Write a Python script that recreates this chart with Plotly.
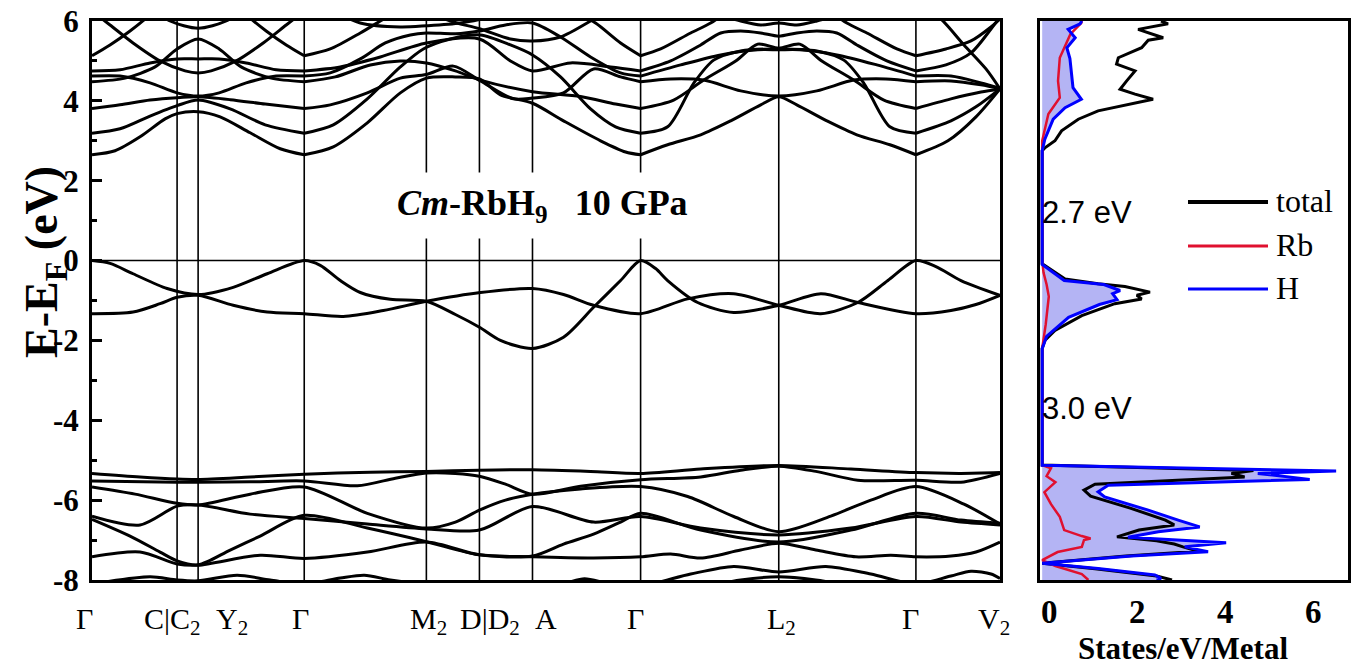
import plotly.graph_objects as go

# ---------------- k-path (high-symmetry points) ----------------
k_nodes = [0.0, 0.85, 1.06, 2.12, 3.34, 3.87, 4.40, 5.48, 6.86, 8.23, 9.07]
k_names = ["Γ", "C|C<sub>2</sub>", "Y<sub>2</sub>", "Γ", "M<sub>2</sub>", "D|D<sub>2</sub>",
           "A", "Γ", "L<sub>2</sub>", "Γ", "V<sub>2</sub>"]

# ---------------- bands: each curve is (k, E[eV]) ----------------
valence_bands = [
    ([0.00, 0.18, 0.41, 0.75, 1.06, 1.41, 1.75, 2.12, 2.28, 2.48, 2.68, 2.98, 3.34, 3.63, 3.87, 4.08,
      4.40, 4.71, 5.01, 5.28, 5.48, 5.63, 5.75, 6.05, 6.41, 6.86, 7.28, 7.65, 8.23, 8.58, 8.83, 9.07],
     [0, -0.07, -0.33, -0.7, -0.85, -0.67, -0.33, 0, -0.12, -0.5, -0.8, -0.97, -1.02, -1.35, -1.67, -2.0,
      -2.2, -1.92, -1.17, -0.5, 0, -0.2, -0.5, -1.05, -1.3, -1.12, -0.83, -1.05, -1.33, -1.25, -1.1, -0.87]),
    ([0.00, 0.41, 0.68, 0.85, 1.06, 1.41, 1.75, 2.12, 2.51, 2.91, 3.34, 3.88, 4.40, 4.71, 5.01, 5.48,
      5.95, 6.41, 6.86, 7.28, 7.65, 7.95, 8.23, 8.43, 8.68, 9.07],
     [-1.33, -1.29, -1.08, -0.92, -0.87, -1.12, -1.29, -1.33, -1.4, -1.25, -1.02, -0.8, -0.7, -0.85, -1.12, -1.33,
      -0.96, -0.83, -1.12, -1.33, -1.05, -0.5, 0, -0.15, -0.5, -0.87]),
]

low_bands = [
    ([0, 0.48, 0.85, 1.06, 1.58, 2.12, 2.78, 3.34, 3.87, 4.40, 4.98, 5.48, 6.08, 6.86, 7.58, 8.23, 8.68, 9.07],
     [-5.33, -5.42, -5.47, -5.48, -5.42, -5.35, -5.3, -5.28, -5.25, -5.24, -5.28, -5.33, -5.22, -5.13, -5.22, -5.31, -5.33, -5.31]),
    ([0, 0.85, 1.06, 1.58, 2.12, 2.65, 3.03, 3.34, 3.63, 3.87, 4.13, 4.40, 4.88, 5.48, 6.08, 6.48, 6.86, 7.23, 7.65, 8.23, 8.68, 9.07],
     [-5.52, -5.55, -5.55, -5.54, -5.52, -5.64, -5.45, -5.32, -5.33, -5.4, -5.6, -5.85, -5.65, -5.49, -5.42, -5.25, -5.15, -5.28, -5.5, -5.5, -5.55, -5.33]),
    ([0, 0.43, 0.85, 1.06, 1.58, 2.12, 2.75, 3.34, 3.63, 3.87, 4.13, 4.40, 4.88, 5.48, 5.95, 6.41, 6.86, 7.38, 7.78, 8.23, 8.71, 9.07],
     [-5.67, -5.85, -6.08, -6.12, -5.85, -5.67, -6.33, -6.7, -6.55, -6.25, -6.0, -5.85, -5.72, -5.66, -5.91, -6.41, -6.79, -6.4, -6.0, -5.66, -6.1, -6.6]),
    ([0, 0.48, 0.85, 1.06, 1.58, 2.12, 2.75, 3.34, 3.87, 4.40, 5.01, 5.48, 6.08, 6.86, 7.58, 8.23, 8.68, 9.07],
     [-6.4, -6.62, -6.15, -6.12, -6.35, -6.46, -6.6, -6.72, -6.75, -6.16, -6.55, -6.41, -6.7, -6.87, -6.7, -6.41, -6.55, -6.62]),
    ([0, 0.38, 0.68, 0.85, 1.06, 1.38, 1.68, 2.12, 2.75, 3.34, 3.87, 4.40, 4.71, 5.01, 5.28, 5.48, 6.08, 6.86, 7.58, 8.23, 8.68, 9.07],
     [-6.48, -6.9, -7.3, -7.52, -7.62, -7.25, -6.9, -6.38, -6.7, -7.04, -7.37, -7.4, -7.1, -6.85, -6.55, -6.33, -6.75, -7.05, -6.75, -6.33, -6.5, -6.58]),
    ([0, 0.48, 0.85, 1.06, 1.68, 2.12, 2.75, 3.34, 3.87, 4.40, 5.01, 5.48, 5.78, 6.08, 6.48, 6.86, 7.23, 7.63, 7.98, 8.23, 8.58, 8.83, 9.07],
     [-7.42, -7.3, -7.6, -7.63, -7.38, -7.46, -7.3, -7.05, -7.37, -7.42, -7.45, -7.42, -7.35, -7.45, -7.25, -7.08, -7.25, -7.42, -7.38, -7.42, -7.4, -7.3, -7.05]),
    ([0, 0.58, 0.85, 1.06, 1.45, 1.78, 2.12, 2.48, 2.72, 2.98, 3.34, 4.08, 4.68, 4.92, 5.18, 5.48, 5.98, 6.41, 6.86, 7.33, 7.78, 8.23, 8.58, 8.78, 8.98, 9.07],
     [-8.1, -7.92, -8.0, -8.02, -7.88, -8.0, -8.1, -7.95, -7.88, -8.0, -8.1, -8.15, -8.1, -7.97, -8.1, -8.15, -7.85, -7.66, -7.8, -7.66, -7.85, -8.1, -7.9, -7.78, -7.85, -7.96]),
    ([6.08, 6.48, 6.86, 7.23, 7.68],
     [-8.2, -8.0, -7.92, -8.0, -8.2]),
]

# conduction bands, Γ -> C|C2 -> Y2 -> Γ
cond_gamma_y2 = [
    ([0, 0.23, 0.48, 0.73, 0.85, 1.06, 1.28, 1.58, 1.88, 2.12], [2.65, 2.75, 3.1, 3.55, 3.68, 3.73, 3.6, 3.2, 2.8, 2.65]),
    ([0, 0.28, 0.58, 0.85, 1.06, 1.38, 1.73, 2.12], [3.19, 3.3, 3.62, 3.88, 4.02, 3.8, 3.4, 3.19]),
    ([0, 0.28, 0.58, 0.85, 1.06, 1.38, 1.73, 2.12], [3.81, 3.9, 4.02, 4.08, 4.1, 4.03, 3.92, 3.81]),
    ([0, 0.33, 0.63, 0.85, 1.06, 1.27, 1.49, 1.79, 2.12], [4.48, 4.57, 4.85, 5.3, 5.55, 5.3, 4.85, 4.57, 4.48]),
    ([0, 0.28, 0.58, 0.85, 1.06, 1.27, 1.54, 1.84, 2.12], [4.62, 4.62, 4.45, 4.2, 4.12, 4.2, 4.45, 4.62, 4.62]),
    ([0, 0.28, 0.58, 0.85, 1.06, 1.27, 1.54, 1.84, 2.12], [4.75, 4.78, 4.95, 5.05, 5.05, 5.05, 4.95, 4.78, 4.75]),
    ([0, 0.18, 0.38, 0.53, 0.68], [5.13, 5.4, 5.75, 6.05, 6.4]),
    ([1.44, 1.59, 1.74, 1.94, 2.12], [6.4, 6.05, 5.75, 5.4, 5.13]),
    ([0, 0.18, 0.41, 0.68, 0.93, 1.06, 1.19, 1.44, 1.71, 1.94, 2.12], [6.25, 5.9, 5.45, 5.0, 4.75, 4.7, 4.75, 5.0, 5.45, 5.9, 6.25]),
    ([0.58, 0.78, 1.06, 1.34, 1.54], [6.35, 6.0, 5.82, 6.0, 6.35]),
]

# conduction bands, Γ -> M2 -> D|D2 -> A -> Γ
cond_gamma_a = [
    ([2.12, 2.41, 2.75, 3.08, 3.34, 3.63, 3.87, 4.08, 4.40, 4.71, 5.08, 5.33, 5.48],
     [2.65, 2.85, 3.45, 4.2, 4.57, 4.6, 4.55, 4.15, 3.94, 3.5, 3.0, 2.72, 2.65]),
    ([2.12, 2.41, 2.75, 3.08, 3.31, 3.58, 3.88, 4.18, 4.40, 4.68, 4.98, 5.23, 5.48],
     [3.19, 3.4, 4.05, 4.85, 5.3, 5.55, 5.65, 5.4, 5.15, 4.6, 3.8, 3.35, 3.19]),
    ([2.12, 2.38, 2.75, 3.08, 3.34, 3.61, 3.88, 4.21, 4.40, 4.71, 5.01, 5.28, 5.48],
     [3.81, 3.9, 4.2, 4.57, 4.66, 4.87, 4.5, 4.05, 4.07, 4.2, 4.8, 4.6, 4.48]),
    ([2.12, 2.43, 2.78, 3.08, 3.34, 3.63, 3.88, 4.40, 4.88, 5.23, 5.48],
     [4.48, 4.6, 4.9, 5.0, 4.95, 4.75, 4.52, 4.23, 4.11, 3.92, 3.81]),
    ([2.12, 2.38, 2.68, 2.93, 3.18, 3.34, 3.63, 3.87, 4.13, 4.40, 4.68, 4.98, 5.28, 5.48],
     [4.62, 4.7, 5.05, 5.45, 5.65, 5.7, 5.68, 5.75, 5.9, 5.95, 5.6, 5.1, 4.7, 4.62]),
    ([2.12, 2.48, 2.88, 3.34, 3.87, 4.18, 4.40, 4.78, 5.18, 5.48],
     [4.75, 4.85, 5.1, 5.45, 5.55, 5.0, 4.75, 4.95, 4.85, 4.75]),
    ([2.12, 2.38, 2.68, 2.88, 3.08], [5.13, 5.3, 5.7, 6.0, 6.3]),
    ([4.78, 5.03, 5.28, 5.48], [6.3, 5.95, 5.45, 5.13]),
    ([2.38, 2.68, 3.08, 3.34, 3.68, 3.98, 4.28], [6.3, 5.95, 5.85, 5.88, 5.95, 6.1, 6.3]),
    ([3.28, 3.58, 3.88, 4.18, 4.40, 4.68, 4.98, 5.18], [6.3, 6.0, 5.8, 5.55, 5.5, 5.6, 6.0, 6.3]),
]

# conduction bands, Γ -> L2 -> Γ
cond_gamma_l2 = [
    ([5.48, 5.75, 6.08, 6.38, 6.68, 6.86, 7.04, 7.34, 7.64, 7.97, 8.23], [2.65, 2.9, 3.15, 3.5, 3.9, 4.1, 3.9, 3.5, 3.15, 2.9, 2.65]),
    ([5.48, 5.75, 6.01, 6.21, 6.48, 6.86, 7.24, 7.51, 7.71, 7.97, 8.23], [3.19, 3.35, 4.44, 5.02, 5.25, 5.3, 5.25, 5.02, 4.44, 3.35, 3.19]),
    ([5.48, 5.81, 6.11, 6.43, 6.65, 6.86, 7.07, 7.29, 7.61, 7.91, 8.23], [3.81, 4.02, 4.52, 5.0, 5.42, 5.32, 5.42, 5.0, 4.52, 4.02, 3.81]),
    ([5.48, 5.78, 6.11, 6.48, 6.86, 7.24, 7.61, 7.93, 8.23], [4.48, 4.55, 4.52, 4.25, 4.12, 4.25, 4.52, 4.55, 4.48]),
    ([5.48, 5.88, 6.28, 6.65, 6.86, 7.07, 7.44, 7.84, 8.23], [4.62, 4.9, 5.15, 5.28, 5.28, 5.28, 5.15, 4.9, 4.62]),
    ([5.48, 5.78, 6.08, 6.28, 6.48, 6.68, 6.86, 7.04, 7.24, 7.44, 7.64, 7.94, 8.23],
     [4.75, 5.0, 5.4, 5.7, 5.75, 5.7, 5.62, 5.7, 5.75, 5.7, 5.4, 5.0, 4.75]),
    ([5.48, 5.68, 5.98, 6.18, 6.38], [5.13, 5.3, 5.7, 5.95, 6.3]),
    ([7.34, 7.54, 7.74, 8.04, 8.23], [6.3, 5.95, 5.7, 5.3, 5.13]),
    ([6.08, 6.48, 6.68, 6.86, 7.04, 7.24, 7.64], [6.3, 6.0, 5.9, 5.95, 5.9, 6.0, 6.3]),
]

# conduction bands, Γ -> V2
cond_gamma_v2 = [
    ([8.23, 8.55, 8.83, 9.07], [2.65, 3.0, 3.6, 4.3]),
    ([8.23, 8.58, 8.83, 9.07], [3.19, 3.5, 3.85, 4.3]),
    ([8.23, 8.58, 8.88, 9.07], [3.81, 4.05, 4.22, 4.3]),
    ([8.23, 8.58, 8.88, 9.07], [4.48, 4.5, 4.4, 4.3]),
    ([8.23, 8.58, 8.88, 9.07], [4.62, 4.62, 4.45, 4.32]),
    ([8.23, 8.53, 8.78, 8.98, 9.07], [4.75, 4.9, 5.2, 5.8, 6.1]),
    ([8.23, 8.53, 8.78, 8.98, 9.07], [5.13, 5.3, 5.5, 5.85, 6.05]),
    ([8.33, 8.48, 8.71, 8.93, 9.07], [6.3, 6.05, 5.4, 4.8, 4.3]),
]

# ---------------- density of states (states/eV/metal) ----------------
total_E = [-8.0, -7.9, -7.72, -7.58, -7.4, -7.28, -7.17, -7.1, -7.02, -6.92, -6.75, -6.62, -6.5, -6.2, -5.9,
           -5.75, -5.6, -5.42, -5.33, -5.26, -5.12, -2.2, -2.0, -1.75, -1.38, -1.08, -0.96, -0.87, -0.79, -0.7,
           -0.65, -0.58, -0.46, -0.08, 2.75, 2.83, 3.0, 3.25, 3.54, 3.75, 3.92, 4.04, 4.17, 4.29, 4.5,
           4.75, 4.92, 5.08, 5.33, 5.52, 5.58, 5.79, 5.93, 6.0]
total_dos = [2.95, 2.6, 1.2, 0.0, 1.9, 3.55, 3.2, 3.0, 2.6, 1.7, 2.2, 3.0, 2.8, 2.0, 1.1,
             0.95, 1.2, 4.6, 4.3, 4.8, 0.0, 0.0, 0.06, 0.29, 0.9, 1.65, 2.26, 2.15, 2.45, 2.1,
             1.88, 1.27, 0.52, 0.0, 0.0, 0.07, 0.29, 0.44, 0.82, 1.27, 2.03, 2.52, 2.11, 1.77, 1.92,
             2.11, 1.69, 1.73, 2.26, 2.41, 2.75, 2.18, 2.86, 2.7]

h_E = [-8.0, -7.96, -7.875, -7.71, -7.58, -7.4, -7.29, -7.17, -7.07, -7.0, -6.93, -6.79, -6.67, -6.5, -6.25,
       -5.92, -5.79, -5.625, -5.48, -5.33, -5.27, -5.125, -2.2, -1.9, -1.42, -1.1, -0.98, -0.83, -0.75, -0.6,
       -0.5, -0.1, 2.75, 3.04, 3.54, 3.83, 4.04, 4.33, 4.67, 5.06, 5.33, 5.58, 5.79, 5.93, 6.0]
h_dos = [2.6, 2.7, 2.56, 1.27, 0.0, 2.03, 3.77, 3.24, 4.18, 2.94, 1.95, 2.64, 3.58, 3.09, 2.41,
         1.42, 1.27, 1.5, 6.08, 4.9, 6.68, 0.0, 0.0, 0.1, 0.6, 1.3, 1.7, 1.6, 1.77, 1.4,
         0.5, 0.0, 0.0, 0.06, 0.25, 0.52, 0.89, 0.70, 0.67, 0.63, 0.56, 0.75, 0.59, 0.86, 0.9]

rb_E = [-8.0, -7.85, -7.65, -7.5, -7.3, -7.17, -7.0, -6.96, -6.9, -6.75, -6.42, -6.1, -5.8, -5.55, -5.4,
        -5.2, -5.12, -2.2, -1.6, -1.2, -0.9, -0.6, -0.3, 0.0, 3.0, 3.67, 4.08, 4.5, 5.08, 5.67, 5.95, 6.0]
rb_dos = [1.05, 0.9, 0.3, 0.0, 0.35, 0.9, 0.95, 1.1, 0.9, 0.5, 0.4, 0.2, 0.05, 0.3, 0.1,
          0.2, 0.0, 0.0, 0.08, 0.12, 0.15, 0.1, 0.03, 0.0, 0.0, 0.14, 0.4, 0.36, 0.4, 0.64, 0.89, 0.9]

gap_labels = ["2.7 eV", "3.0 eV"]
series_names = ["total", "Rb", "H"]
series_colors = ["#000000", "#e0102f", "#0000ff"]

# ---------------- figure geometry (pixels) ----------------
W, H = 1357, 668
BAND_X = (92, 1000)
DOS_X = (1040, 1348)
PLOT_Y = (21, 580)   # top, bottom


def px_x(p):
    return p / W


def px_y(p):
    return 1 - p / H


SERIF = "Liberation Serif"
SANS = "Liberation Sans"

fig = go.Figure()

# band structure curves
for group in (valence_bands, low_bands, cond_gamma_y2, cond_gamma_a, cond_gamma_l2, cond_gamma_v2):
    for k, e in group:
        fig.add_trace(go.Scatter(
            x=k, y=e, mode="lines", xaxis="x", yaxis="y",
            line=dict(color="black", width=3, shape="spline", smoothing=0.8),
            hoverinfo="skip", showlegend=False))

# DOS: H filled area, then total, Rb and H outlines
fig.add_trace(go.Scatter(x=h_dos, y=h_E, mode="lines", xaxis="x2", yaxis="y2",
                         fill="tozerox", fillcolor="rgb(180,180,244)",
                         line=dict(width=0, color="rgba(0,0,0,0)"), hoverinfo="skip", showlegend=False))
fig.add_trace(go.Scatter(x=total_dos, y=total_E, mode="lines", xaxis="x2", yaxis="y2",
                         line=dict(color=series_colors[0], width=3), hoverinfo="skip", showlegend=False))
fig.add_trace(go.Scatter(x=rb_dos, y=rb_E, mode="lines", xaxis="x2", yaxis="y2",
                         line=dict(color=series_colors[1], width=2.5), hoverinfo="skip", showlegend=False))
fig.add_trace(go.Scatter(x=h_dos, y=h_E, mode="lines", xaxis="x2", yaxis="y2",
                         line=dict(color=series_colors[2], width=3), hoverinfo="skip", showlegend=False))

shapes = []
# high-symmetry vertical guides
for k in k_nodes[1:-1]:
    shapes.append(dict(type="line", xref="x", yref="y domain", x0=k, x1=k, y0=0, y1=1,
                       line=dict(color="black", width=1.6), layer="below"))
# Fermi level
shapes.append(dict(type="line", xref="x domain", yref="y", x0=0, x1=1, y0=0, y1=0,
                   line=dict(color="black", width=1.6), layer="below"))

annotations = []
# k-path labels under the band panel
label_shift = [-8, -5, 34, -4, 2, 11, 14, -5, 3, -5, -6]
for k, name, dx in zip(k_nodes, k_names, label_shift):
    annotations.append(dict(x=k, y=px_y(600), xref="x", yref="paper", text=name, showarrow=False,
                            xanchor="center", yanchor="top", xshift=dx,
                            font=dict(family=SERIF, size=30, color="black")))

# structure / pressure tag
annotations.append(dict(x=px_x(542), y=px_y(205), xref="paper", yref="paper",
                        xanchor="center", yanchor="middle",
                        text="<b><i>Cm</i>-RbH<sub>9</sub>\u00a0\u00a0\u00a010 GPa</b>", showarrow=False,
                        bgcolor="white", borderpad=10,
                        font=dict(family=SERIF, size=36, color="black")))

# y-axis title
annotations.append(dict(x=px_x(45), y=px_y(262), xref="paper", yref="paper",
                        xanchor="center", yanchor="middle",
                        text="<b>E-E<sub>F</sub> (eV)</b>", textangle=-90, showarrow=False,
                        font=dict(family=SERIF, size=46, color="black")))

# gap sizes
for txt, yp in zip(gap_labels, (213, 408)):
    annotations.append(dict(x=px_x(1087), y=px_y(yp), xref="paper", yref="paper", text=txt,
                            xanchor="center", yanchor="middle",
                            showarrow=False, font=dict(family=SANS, size=31, color="black")))

# DOS legend
for name, col, yp, lw in zip(series_names, series_colors, (202, 246, 289), (4, 3, 3)):
    shapes.append(dict(type="line", xref="paper", yref="paper", x0=px_x(1188), x1=px_x(1268),
                       y0=px_y(yp), y1=px_y(yp), line=dict(color=col, width=lw)))
    annotations.append(dict(x=px_x(1274), y=px_y(yp - 1), xref="paper", yref="paper", text=name,
                            showarrow=False, xanchor="left", yanchor="middle",
                            font=dict(family=SERIF, size=32, color="black")))

# DOS axis title
annotations.append(dict(x=px_x(1183), y=px_y(648), xref="paper", yref="paper",
                        xanchor="center", yanchor="middle",
                        text="<b>States/eV/Metal</b>", showarrow=False,
                        font=dict(family=SERIF, size=31, color="black")))

y_dom = [px_y(PLOT_Y[1]), px_y(PLOT_Y[0])]
axis_line = dict(showline=True, linecolor="black", linewidth=3, mirror=True,
                 showgrid=False, zeroline=False)

fig.update_layout(
    width=W, height=H, autosize=False,
    margin=dict(l=0, r=0, t=0, b=0, autoexpand=False),
    paper_bgcolor="white", plot_bgcolor="white",
    showlegend=False,
    xaxis=dict(domain=[px_x(BAND_X[0]), px_x(BAND_X[1])], range=[0, 9.07], anchor="y",
               ticks="", showticklabels=False, **axis_line),
    yaxis=dict(domain=y_dom, range=[-8, 6], anchor="x",
               tickmode="array", tickvals=[-8, -6, -4, -2, 0, 2, 4, 6],
               ticktext=["-8", "-6", "-4", "-2", "0", "2", "4", "6"],
               ticks="inside", ticklen=10, tickwidth=2.5, tickcolor="black",
               minor=dict(tickmode="array", tickvals=[-7, -5, -3, -1, 1, 3, 5], ticks="inside",
                          ticklen=5, tickwidth=2.5, tickcolor="black", showgrid=False),
               ticklabelstandoff=4,
               tickfont=dict(family=SERIF, size=31, color="black", weight="bold"), **axis_line),
    xaxis2=dict(domain=[px_x(DOS_X[0]), px_x(DOS_X[1])], range=[-0.05, 6.95], anchor="y2",
                tickmode="array", tickvals=[0, 2, 4, 6], ticktext=["0", "2", "4", "6"],
                ticks="", ticklabelstandoff=0, ticklabelshift=7,
                tickfont=dict(family=SERIF, size=33, color="black", weight="bold"), **axis_line),
    yaxis2=dict(domain=y_dom, range=[-8, 6], anchor="x2", ticks="", showticklabels=False, **axis_line),
    shapes=shapes,
    annotations=annotations,
)

fig.write_html("out.html")
